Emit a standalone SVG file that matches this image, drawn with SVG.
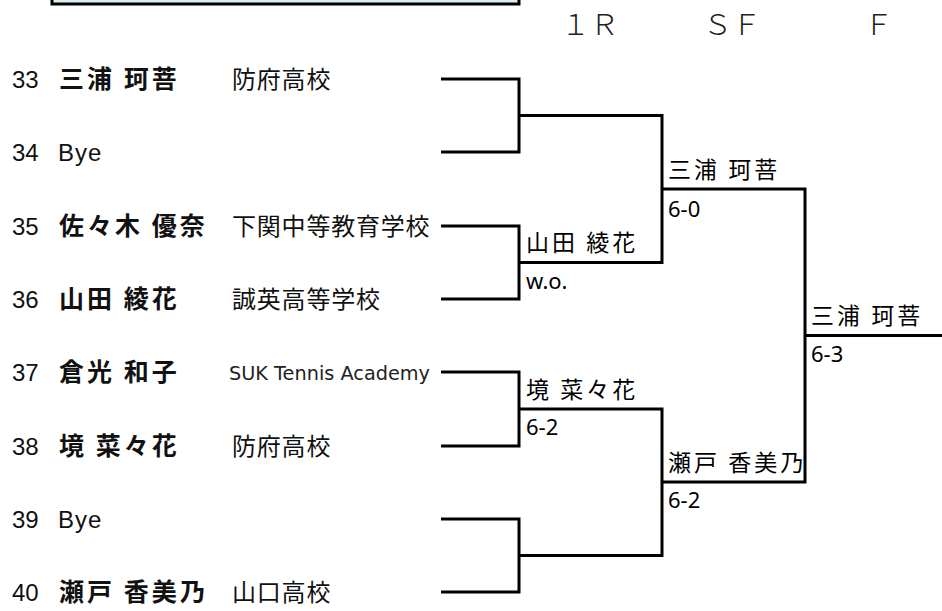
<svg xmlns="http://www.w3.org/2000/svg" width="942" height="611" viewBox="0 0 942 611">
<style>
.num{font-family:"Liberation Sans",Arial,sans-serif;font-size:24px;fill:#111}
.nm{font-family:"Noto Sans CJK JP","Noto Sans",sans-serif;font-size:25px;font-weight:600;fill:#111;letter-spacing:3px}
.bye{font-family:"Liberation Sans",Arial,sans-serif;font-size:24px;fill:#111;letter-spacing:1px}
.sc{font-family:"Noto Sans CJK JP","Noto Sans",sans-serif;font-size:24px;fill:#111;letter-spacing:0.8px}
.suk{font-family:"DejaVu Sans","Liberation Sans",sans-serif;font-size:19.3px;fill:#222}
.hd{font-family:"Noto Sans CJK JP","Noto Sans",sans-serif;font-size:29px;font-weight:300;fill:#222}
.lb{font-family:"Noto Sans CJK JP","Noto Sans",sans-serif;font-size:23px;fill:#000;letter-spacing:3px}
.rs{font-family:"Noto Sans","Open Sans",sans-serif;font-size:22px;fill:#000}
.br{fill:none;stroke:#000;stroke-width:3;stroke-linejoin:miter}
</style>
<rect x="52" y="-10" width="467" height="14" fill="#DAEEF3" stroke="#000" stroke-width="3"/>
<g id="header">
<text class="hd" x="561" y="35">１Ｒ</text>
<text class="hd" x="703" y="35">ＳＦ</text>
<text class="hd" x="864" y="35">Ｆ</text>
</g>
<g id="p33"><text class="num" x="12" y="88">33</text><text class="nm" x="59" y="88">三浦 珂菩</text><text class="sc" x="232" y="88">防府高校</text></g>
<g id="p34"><text class="num" x="12" y="161">34</text><text class="bye" x="58" y="161">Bye</text></g>
<g id="p35"><text class="num" x="12" y="235">35</text><text class="nm" x="59" y="235">佐々木 優奈</text><text class="sc" x="232" y="235">下関中等教育学校</text></g>
<g id="p36"><text class="num" x="12" y="308">36</text><text class="nm" x="59" y="308">山田 綾花</text><text class="sc" x="232" y="308">誠英高等学校</text></g>
<g id="p37"><text class="num" x="12" y="381">37</text><text class="nm" x="59" y="381">倉光 和子</text><text class="suk" x="229" y="380">SUK Tennis Academy</text></g>
<g id="p38"><text class="num" x="12" y="455">38</text><text class="nm" x="59" y="455">境 菜々花</text><text class="sc" x="232" y="455">防府高校</text></g>
<g id="p39"><text class="num" x="12" y="528">39</text><text class="bye" x="58" y="528">Bye</text></g>
<g id="p40"><text class="num" x="12" y="601">40</text><text class="nm" x="59" y="601">瀬戸 香美乃</text><text class="sc" x="232" y="601">山口高校</text></g>
<g id="connectors">
<path class="br" d="M441 79H519V152H441M519 115.5H662V262.5H519M441 226H519V299H441"/>
<path class="br" d="M441 372H519V446H441M519 409H662V555.5H519M441 519H519V592H441"/>
<path class="br" d="M662 189H805V482H662M805 335.5H942"/>
</g>
<g id="r1a"><text class="lb" x="526" y="251">山田 綾花</text><text class="rs" x="526" y="289">w.o.</text></g>
<g id="r1b"><text class="lb" x="526" y="398">境 菜々花</text><text class="rs" x="526" y="435">6-2</text></g>
<g id="sfa"><text class="lb" x="668" y="178">三浦 珂菩</text><text class="rs" x="668" y="217">6-0</text></g>
<g id="sfb"><text class="lb" x="668" y="471">瀬戸 香美乃</text><text class="rs" x="668" y="508">6-2</text></g>
<g id="fin"><text class="lb" x="811" y="324">三浦 珂菩</text><text class="rs" x="811" y="362">6-3</text></g>
</svg>
